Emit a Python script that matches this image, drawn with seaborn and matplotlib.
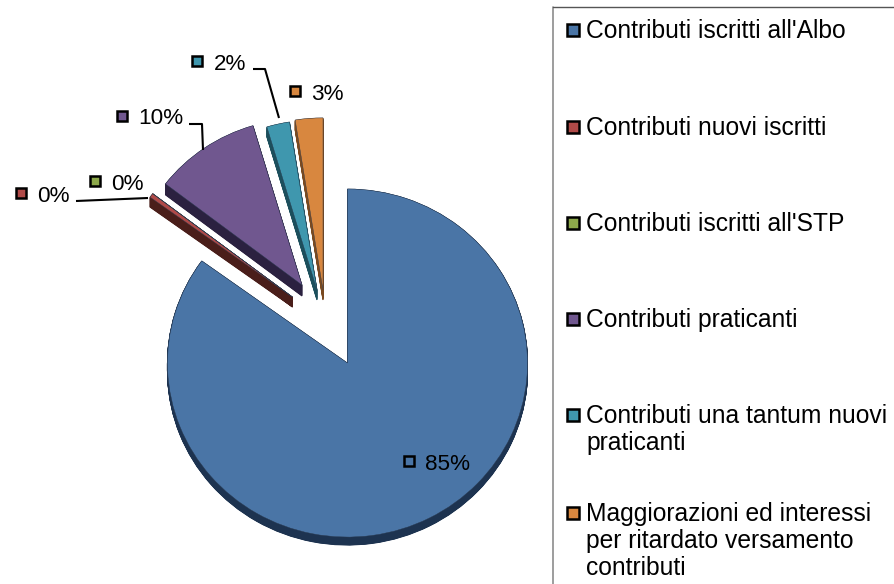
import matplotlib
matplotlib.use("Agg")
import matplotlib.pyplot as plt
from matplotlib.patches import Rectangle
import seaborn as sns

categories = ["Contributi iscritti all'Albo", "Contributi nuovi iscritti",
              "Contributi iscritti all'STP", "Contributi praticanti",
              "Contributi una tantum nuovi\npraticanti",
              "Maggiorazioni ed interessi\nper ritardato versamento\ncontributi"]
values = [85.0, 0.4, 0.02, 10.0, 2.1, 2.5]
pct_labels = ["85%", "0%", "0%", "10%", "2%", "3%"]

top_colors = ["#4A75A6", "#B04A48", "#8DA94B", "#70578F", "#3F97AE", "#D8873F"]
side_colors = ["#1D3350", "#4A1E1A", "#4A1E1A", "#2B2140", "#1C4F5C", "#7A4A20"]

# layout (pixels)
W, H = 895, 584
CX, CY, SQ = 347.5, 363.0, 0.967
offsets = [(0, 0), (-55, 66), (-55, 66), (-45.5, 78), (-30.5, 73), (-24.5, 73)]
radii = [180, 176, 176, 172, 176, 178]
depths = [8, 10, 10, 11, 10, 10]
label_xy = [(409, 461), (21, 193), (95, 181), (122, 116), (197, 61), (295, 91)]
legend_y = [29, 126, 222, 318, 414, 512]
leaders = [([76, 148], [201, 198]),
           ([189, 202, 203], [124, 124, 150]),
           ([253, 265, 279], [69, 69, 118])]

sns.set_theme(style="white")
plt.rcParams["font.family"] = ["Liberation Sans", "DejaVu Sans"]
top_pal = sns.color_palette(top_colors)
side_pal = sns.color_palette(side_colors)

fig = plt.figure(figsize=(W / 100, H / 100), dpi=100, facecolor="white")
ax = fig.add_axes([0, 0, 1, 1])


def draw_layer(colors, shift, lw):
    wedges, _ = ax.pie(values, colors=colors, startangle=90, counterclock=False,
                       radius=1, wedgeprops=dict(linewidth=lw))
    for w, (dx, dy), r, d, c in zip(wedges, offsets, radii, depths, colors):
        w.set_radius(r)
        w.set_center((dx, dy / SQ - d * shift / SQ))
        w.set_edgecolor(c if shift > 0 else "#2A3A50")


for k in range(24, 0, -1):
    draw_layer(side_pal, k / 24, 0.7)
draw_layer(top_pal, 0.0, 0.3)

ax.set_aspect("auto")
ax.set_xlim(-CX, W - CX)
ax.set_ylim(-(H - CY) / SQ, CY / SQ)
ax.axis("off")

ov = fig.add_axes([0, 0, 1, 1], facecolor="none")
ov.set_xlim(0, W)
ov.set_ylim(H, 0)
ov.axis("off")

for xs, ys in leaders:
    ov.plot(xs, ys, color="black", lw=1.5, solid_capstyle="butt")

for (x, y), txt, c in zip(label_xy, pct_labels, top_pal):
    ov.add_patch(Rectangle((x - 5, y - 5), 10, 10, fc=c, ec="black", lw=1.8, zorder=5))
    ov.text(x + 16.5, y + 3, txt, fontsize=16.2, va="center", ha="left", color="black")

# legend panel
ov.plot([553, 553], [H, 7], color="#8C8C8C", lw=1.2)
ov.plot([553, W], [7, 7], color="#555555", lw=1.0)
for y, txt, c in zip(legend_y, categories, top_pal):
    ov.add_patch(Rectangle((567.5, y - 5.5), 12, 12, fc=c, ec="black", lw=1.8, zorder=5))
    ov.text(586, y - 10, txt, fontsize=17.7, va="top", ha="left",
            color="black", linespacing=1.17)

fig.savefig("out.png", dpi=100)
